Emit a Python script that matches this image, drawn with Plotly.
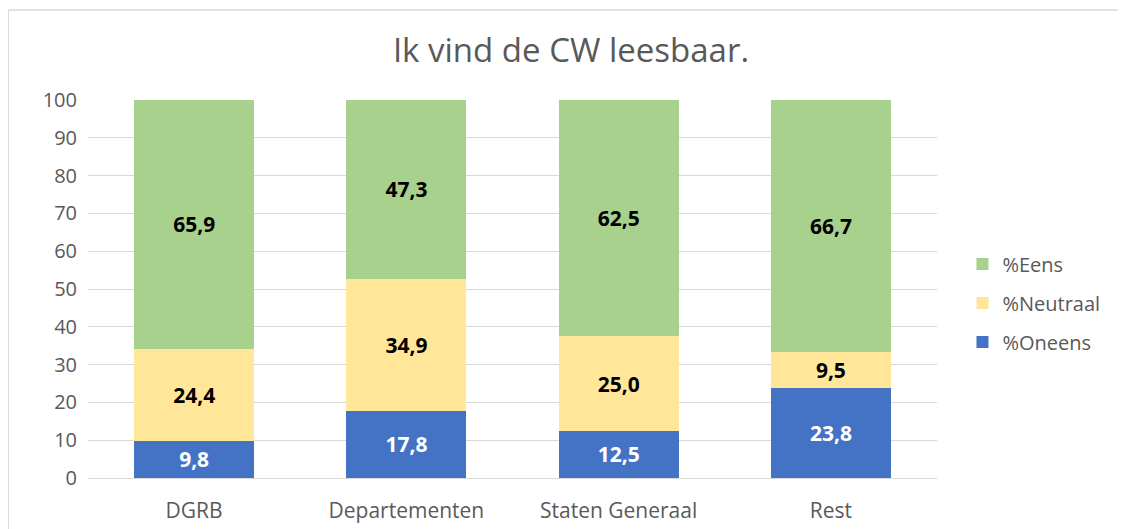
import plotly.graph_objects as go

categories = ["DGRB", "Departementen", "Staten Generaal", "Rest"]
oneens = [9.8, 17.8, 12.5, 23.8]
neutraal = [24.4, 34.9, 25.0, 9.5]
eens = [65.9, 47.3, 62.5, 66.7]
yticks = [0, 10, 20, 30, 40, 50, 60, 70, 80, 90, 100]

def fmt(v):
    return f"{v:.1f}".replace(".", ",")

FONT = "Open Sans, Noto Sans, sans-serif"
fig = go.Figure()
series = [
    ("%Oneens", oneens, "#4472C4", "white", 3),
    ("%Neutraal", neutraal, "#FFE699", "black", 2),
    ("%Eens", eens, "#A9D18E", "black", 1),
]
for name, vals, col, tcol, rank in series:
    fig.add_trace(go.Bar(
        name=name, x=categories, y=vals, marker_color=col, marker_line_width=0,
        legendgroup=name, legendrank=rank,
        text=[f"<b>{fmt(v)}</b>" for v in vals], textposition="inside",
        insidetextanchor="middle", textangle=0,
        textfont=dict(color=tcol, size=21, family=FONT),
        hoverinfo="skip",
    ))

fig.update_layout(
    barmode="stack", bargap=0.435,
    width=1126, height=529,
    margin=dict(l=80, r=197, t=92, b=59, autoexpand=False),
    paper_bgcolor="white", plot_bgcolor="white",
    title=dict(text="Ik vind de CW leesbaar.", x=0.5, xref="container", xanchor="center",
               y=0.92, yanchor="middle",
               font=dict(size=33, color="#595959", family=FONT)),
    legend=dict(traceorder="grouped", x=1.03, xanchor="left", y=0.463, yanchor="middle",
                font=dict(size=20, color="#595959", family=FONT), itemsizing="constant",
                tracegroupgap=10),
    uniformtext=dict(minsize=8, mode="show"),
    font=dict(family=FONT),
    shapes=[dict(type="rect", xref="paper", yref="paper", x0=-0.094, x1=1.4, y0=-0.4, y1=1.238,
                 line=dict(color="#D9D9D9", width=1.5), fillcolor="rgba(0,0,0,0)", layer="below")],
)
fig.update_yaxes(range=[0, 100], tickvals=yticks, showgrid=True, gridcolor="#D9D9D9", gridwidth=1,
                 zeroline=False, showline=False, ticks="", ticklabelstandoff=10, automargin=False,
                 tickfont=dict(size=20, color="#595959", family=FONT))
fig.update_xaxes(showline=True, linecolor="#D9D9D9", ticks="", ticklabelstandoff=14, automargin=False,
                 tickfont=dict(size=21, color="#595959", family=FONT))

fig.write_html("out.html")
